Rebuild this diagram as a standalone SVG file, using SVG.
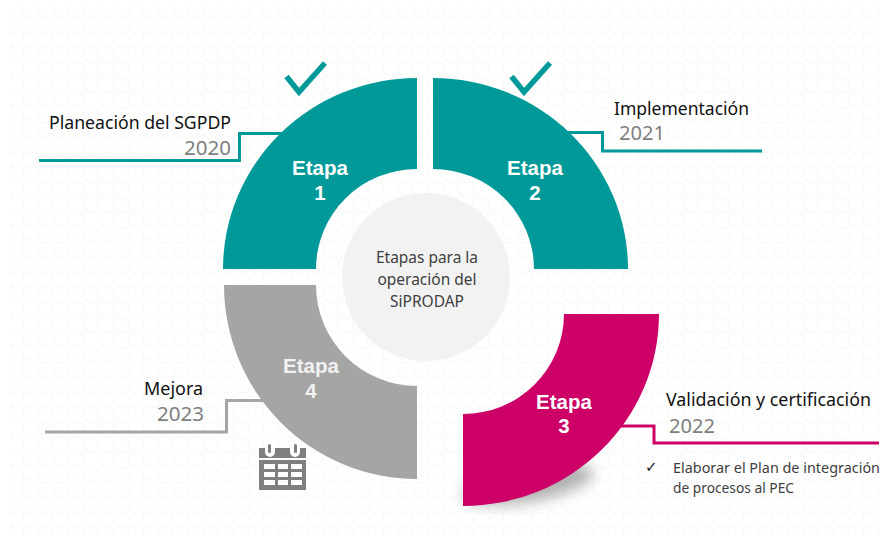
<svg xmlns="http://www.w3.org/2000/svg" width="889" height="542" viewBox="0 0 889 542">
<style>
.lbl{font-family:"Noto Sans","Open Sans",sans-serif;font-size:18px;fill:#111}
.yr{font-family:"Noto Sans","Open Sans",sans-serif;font-size:20px;fill:#7f7f7f}
.et{font-family:"Liberation Sans",Arial,sans-serif;font-size:20.5px;font-weight:bold;fill:#fff;text-anchor:middle}
.ctr{font-family:"Noto Sans","Open Sans",sans-serif;font-size:15.5px;fill:#404040;text-anchor:middle}
.sm{font-family:"Noto Sans","Open Sans",sans-serif;font-size:13.5px;fill:#404040}
.cn{fill:none;stroke-width:3}
.teal{fill:#009999}
.ck{fill:none;stroke:#009999;stroke-width:5.5}
</style>
<defs>
<pattern id="wave" width="15" height="15" patternUnits="userSpaceOnUse">
<path d="M0 3q4-3 7 0t1 7 7 5M8 0q3 3 7 3" fill="none" stroke="#f6f6f6" stroke-width="1"/>
</pattern>
<filter id="blur" x="-30%" y="-50%" width="160%" height="200%"><feGaussianBlur stdDeviation="7"/></filter>
</defs>
<rect width="889" height="542" fill="#fff"/>
<rect x="10" y="6" width="870" height="530" fill="url(#wave)"/>
<ellipse cx="528" cy="484" rx="66" ry="18" fill="#808080" opacity="0.6" filter="url(#blur)" transform="rotate(-10 528 484)"/>
<g id="connectors">
<path class="cn" stroke="#009999" d="M292 133.500H239.500V160.500H39"/>
<path class="cn" stroke="#009999" d="M560 132.500H602.500V151H762"/>
<path class="cn" stroke="#a5a5a5" d="M270 400.500H226.500V432H45"/>
<path class="cn" stroke="#cc0066" d="M612 426H654V443H879"/>
</g>
<g id="center"><circle cx="426" cy="277" r="84" fill="#f2f2f2"/>
<text class="ctr" x="427" y="263" textLength="102" lengthAdjust="spacingAndGlyphs">Etapas para la</text><text class="ctr" x="427" y="285">operación del</text><text class="ctr" x="427" y="307">SiPRODAP</text></g>
<g id="etapa1"><path class="teal" d="M223 269A194 191 0 0 1 417 78V169A101 100 0 0 0 316 269Z"/>
<text class="et" x="320" y="175">Etapa</text><text class="et" x="320" y="200">1</text>
<path class="ck" d="M286.500 76.500L299 92L325 63"/></g>
<g id="etapa2"><path class="teal" d="M628 269A195 191 0 0 0 433 78V169A101 100 0 0 1 534 269Z"/>
<text class="et" x="535" y="175">Etapa</text><text class="et" x="535" y="200">2</text>
<path class="ck" d="M511.500 76.500L524 92L550 63"/></g>
<g id="etapa3"><path fill="#cc0066" d="M659 314A196 192 0 0 1 463 506V414A101 100 0 0 0 564 314Z"/>
<text class="et" x="564" y="409">Etapa</text><text class="et" x="564" y="433">3</text></g>
<g id="etapa4"><path fill="#a5a5a5" d="M224 285A193 194 0 0 0 417 479V386A101 101 0 0 1 316 285Z"/>
<text class="et" x="311" y="373" style="fill:#f2f2f2">Etapa</text><text class="et" x="311" y="398" style="fill:#f2f2f2">4</text>
<g id="calendar"><path fill="#7f7f7f" fill-rule="evenodd" d="M259 448H265V452A5 5 0 0 0 275 452V448H290V452A5 5 0 0 0 300 452V448H306V458H259ZM259 460H306V490H259ZM264 464V469H275V464ZM278 464V469H288V464ZM291 464V469H302V464ZM264 472V477H275V472ZM278 472V477H288V472ZM291 472V477H302V472ZM264 480V485H275V480ZM278 480V485H288V480ZM291 480V485H302V480Z"/>
<rect x="268" y="444" width="3" height="9" rx="1.500" fill="#7f7f7f"/><rect x="294" y="444" width="3" height="9" rx="1.500" fill="#7f7f7f"/></g></g>
<g id="labels">
<text class="lbl" x="49" y="129" textLength="182" lengthAdjust="spacingAndGlyphs">Planeación del SGPDP</text>
<text class="yr" x="184" y="155" textLength="47" lengthAdjust="spacingAndGlyphs">2020</text>
<text class="lbl" x="614" y="115" textLength="135" lengthAdjust="spacingAndGlyphs">Implementación</text>
<text class="yr" x="619" y="140" textLength="46" lengthAdjust="spacingAndGlyphs">2021</text>
<text class="lbl" x="144" y="395" textLength="59" lengthAdjust="spacingAndGlyphs">Mejora</text>
<text class="yr" x="157" y="421" textLength="47" lengthAdjust="spacingAndGlyphs">2023</text>
<text class="lbl" x="666" y="406" textLength="205" lengthAdjust="spacingAndGlyphs">Validación y certificación</text>
<text class="yr" x="669" y="433" textLength="46" lengthAdjust="spacingAndGlyphs">2022</text>
<text x="645" y="472" font-family="DejaVu Sans,sans-serif" font-size="15" fill="#222">✓</text>
<text class="sm" x="673" y="473" textLength="207" lengthAdjust="spacingAndGlyphs">Elaborar el Plan de integración</text>
<text class="sm" x="673" y="493" textLength="121" lengthAdjust="spacingAndGlyphs">de procesos al PEC</text>
</g>
</svg>
